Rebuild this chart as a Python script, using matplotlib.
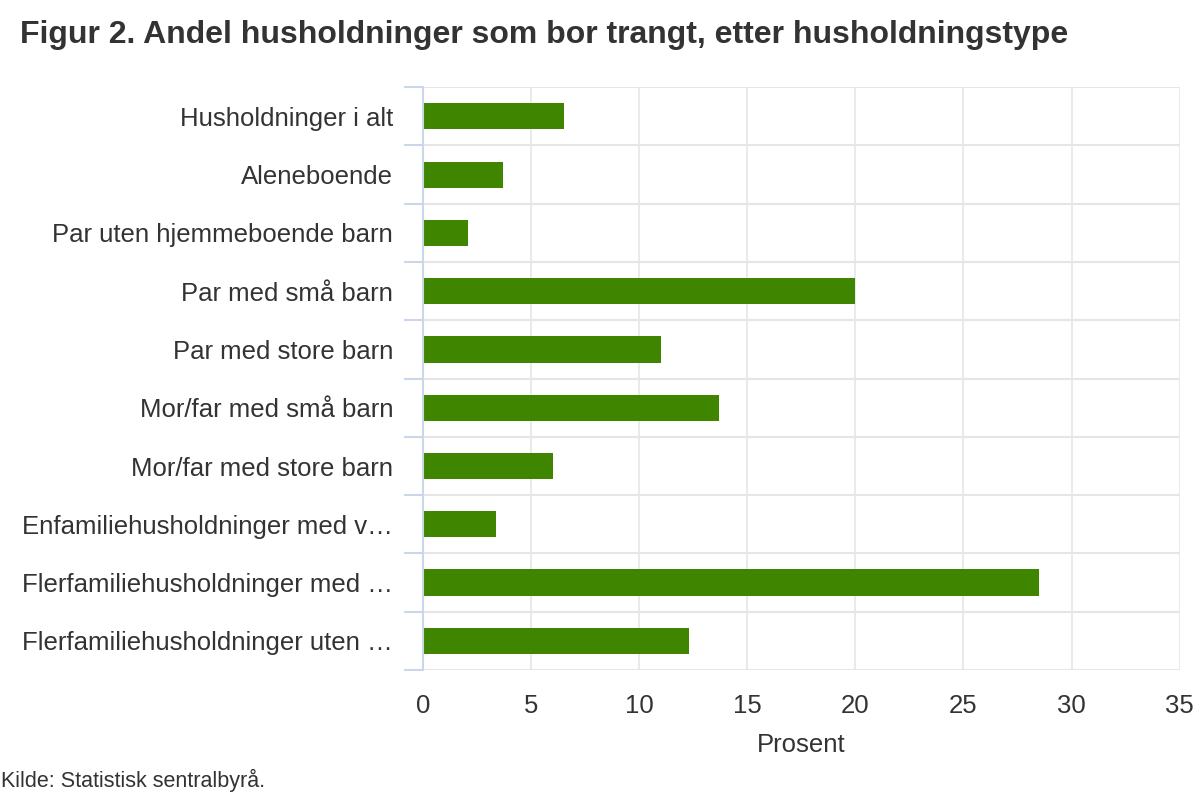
import matplotlib
matplotlib.use("Agg")
import matplotlib.pyplot as plt
import numpy as np

plt.rcParams["font.family"] = ["Liberation Sans", "DejaVu Sans"]

CATEGORIES = [
    "Husholdninger i alt",
    "Aleneboende",
    "Par uten hjemmeboende barn",
    "Par med små barn",
    "Par med store barn",
    "Mor/far med små barn",
    "Mor/far med store barn",
    "Enfamiliehusholdninger med v…",
    "Flerfamiliehusholdninger med …",
    "Flerfamiliehusholdninger uten …",
]
VALUES = [6.5, 3.7, 2.1, 20.0, 11.0, 13.7, 6.0, 3.4, 28.5, 12.3]
X_TICKS = [0, 5, 10, 15, 20, 25, 30, 35]

BAR_COLOR = "#408500"
GRID_COLOR = "#e6e6e6"
AXIS_COLOR = "#ccd6eb"
TEXT_COLOR = "#333333"

fig = plt.figure(figsize=(12, 8), dpi=100)
ax = fig.add_axes([0.3525, 0.1625, 0.6305, 0.7285])

y = np.arange(len(CATEGORIES))
ax.barh(y, VALUES, height=0.45, color=BAR_COLOR, zorder=3)

ax.set_ylim(len(CATEGORIES) - 0.5, -0.5)
ax.set_xlim(0, 35)
ax.set_xticks(X_TICKS)
ax.set_xticklabels([str(t) for t in X_TICKS], fontsize=18.5, color=TEXT_COLOR)
ax.set_yticks(y)
ax.set_yticklabels(CATEGORIES, fontsize=18.5, color=TEXT_COLOR)

# category boundaries as minor ticks -> horizontal grid lines
ax.set_yticks(np.arange(-0.5, len(CATEGORIES)), minor=True)
ax.tick_params(axis="y", which="major", length=0, pad=21.5)
ax.tick_params(axis="y", which="minor", length=14, width=1.5, color=AXIS_COLOR)
ax.tick_params(axis="x", length=0, pad=17)
ax.grid(axis="y", which="minor", color=GRID_COLOR, linewidth=1.5, zorder=0)
ax.grid(axis="x", which="major", color=GRID_COLOR, linewidth=1.2, zorder=0)

for side in ["top", "right", "bottom"]:
    ax.spines[side].set_visible(False)
ax.spines["left"].set_color(AXIS_COLOR)
ax.spines["left"].set_linewidth(1.5)
ax.spines["left"].set_zorder(4)

ax.set_xlabel("Prosent", fontsize=18.5, color=TEXT_COLOR, labelpad=11)

fig.text(0.017, 0.956, "Figur 2. Andel husholdninger som bor trangt, etter husholdningstype",
         fontsize=23, fontweight="bold", color=TEXT_COLOR, va="center", ha="left")
fig.text(0.001, 0.024, "Kilde: Statistisk sentralbyrå.", fontsize=15.5,
         color=TEXT_COLOR, va="center", ha="left")

fig.savefig("out.png", dpi=100)
